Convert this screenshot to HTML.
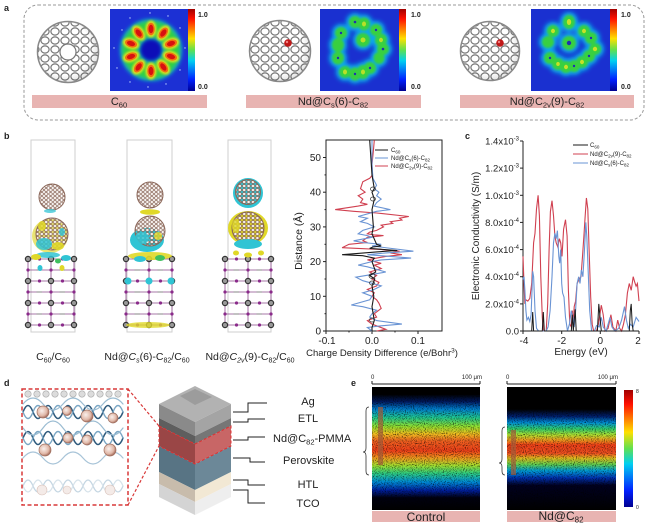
<!DOCTYPE html>
<html><head><meta charset="utf-8"><style>
html,body{margin:0;padding:0;background:#fff;}
svg{display:block;font-family:"Liberation Sans",Arial,sans-serif;}
</style></head><body>
<svg width="649" height="527" viewBox="0 0 649 527" xmlns="http://www.w3.org/2000/svg">
<defs>
<linearGradient id="jet" x1="0" y1="0" x2="0" y2="1">
<stop offset="0" stop-color="#a00000"/><stop offset="0.12" stop-color="#ff1000"/><stop offset="0.36" stop-color="#ffe000"/><stop offset="0.5" stop-color="#60e050"/><stop offset="0.63" stop-color="#00d0f0"/><stop offset="0.86" stop-color="#0020ff"/><stop offset="1" stop-color="#000090"/>
</linearGradient>
<pattern id="mesh" patternUnits="userSpaceOnUse" width="10" height="9">
<ellipse cx="5" cy="4.5" rx="4.1" ry="3.6" fill="#fff" stroke="#777" stroke-width="1.2"/>
</pattern>
<pattern id="mesh2" patternUnits="userSpaceOnUse" width="4.4" height="4">
<ellipse cx="2.2" cy="2" rx="1.7" ry="1.5" fill="#f6f0ec" stroke="#8a6658" stroke-width="0.8"/>
</pattern>
<radialGradient id="shade" cx="0.45" cy="0.45" r="0.6">
<stop offset="0.7" stop-color="#000" stop-opacity="0"/><stop offset="1" stop-color="#000" stop-opacity="0.15"/>
</radialGradient>
<filter id="b2" x="-50%" y="-50%" width="200%" height="200%"><feGaussianBlur stdDeviation="2"/></filter>
<filter id="b1" x="-50%" y="-50%" width="200%" height="200%"><feGaussianBlur stdDeviation="1.1"/></filter>
<filter id="b3" x="-50%" y="-50%" width="200%" height="200%"><feGaussianBlur stdDeviation="3"/></filter>
<filter id="speck" x="0" y="0" width="100%" height="100%" color-interpolation-filters="sRGB">
<feTurbulence type="fractalNoise" baseFrequency="0.9" numOctaves="1" seed="4"/>
<feColorMatrix type="matrix" values="0 0 0 0 0  0 0 0 0 0  0 0 0 0 0  2.4 0 0 0 -1.15"/>
</filter>
<linearGradient id="gc" x1="0" y1="0" x2="0" y2="1">
<stop offset="0" stop-color="#000"/><stop offset="0.06" stop-color="#000"/><stop offset="0.12" stop-color="#001a60"/><stop offset="0.18" stop-color="#0080d0"/><stop offset="0.25" stop-color="#20c890"/><stop offset="0.32" stop-color="#90e030"/><stop offset="0.38" stop-color="#f0c020"/><stop offset="0.44" stop-color="#f06020"/><stop offset="0.52" stop-color="#f04018"/><stop offset="0.58" stop-color="#f0a020"/><stop offset="0.64" stop-color="#a0e030"/><stop offset="0.70" stop-color="#30d080"/><stop offset="0.77" stop-color="#0090d8"/><stop offset="0.84" stop-color="#0020a0"/><stop offset="0.9" stop-color="#000010"/><stop offset="1" stop-color="#000"/>
</linearGradient>
<linearGradient id="gn" x1="0" y1="0" x2="0" y2="1">
<stop offset="0" stop-color="#000"/><stop offset="0.18" stop-color="#000"/><stop offset="0.24" stop-color="#002070"/><stop offset="0.29" stop-color="#0090d8"/><stop offset="0.34" stop-color="#30d070"/><stop offset="0.39" stop-color="#b0e030"/><stop offset="0.43" stop-color="#f0a020"/><stop offset="0.47" stop-color="#f04018"/><stop offset="0.54" stop-color="#f05020"/><stop offset="0.58" stop-color="#e0c020"/><stop offset="0.63" stop-color="#60d050"/><stop offset="0.68" stop-color="#00a0d8"/><stop offset="0.74" stop-color="#0030b0"/><stop offset="0.8" stop-color="#000020"/><stop offset="1" stop-color="#000"/>
</linearGradient>
<radialGradient id="sph" cx="0.4" cy="0.4" r="0.6">
<stop offset="0" stop-color="#faf0ec"/><stop offset="0.7" stop-color="#e0b8a8"/><stop offset="1" stop-color="#a87060"/>
</radialGradient>
<g id="lat">
<g stroke="#8a4a8a" stroke-width="0.8">
<line x1="0" y1="0" x2="46" y2="0"/><line x1="0" y1="11" x2="46" y2="11"/><line x1="0" y1="22" x2="46" y2="22"/><line x1="0" y1="33" x2="46" y2="33"/><line x1="0" y1="44" x2="46" y2="44"/><line x1="0" y1="55" x2="46" y2="55"/><line x1="0" y1="66" x2="46" y2="66"/>
<line x1="0" y1="0" x2="0" y2="66"/><line x1="23" y1="0" x2="23" y2="66"/><line x1="46" y1="0" x2="46" y2="66"/>
</g>
<g fill="#9a9a9a" stroke="#333" stroke-width="1.2">
<circle cx="0" cy="0" r="2.6"/><circle cx="23" cy="0" r="2.6"/><circle cx="46" cy="0" r="2.6"/>
<circle cx="0" cy="22" r="2.6"/><circle cx="23" cy="22" r="2.6"/><circle cx="46" cy="22" r="2.6"/>
<circle cx="0" cy="44" r="2.6"/><circle cx="23" cy="44" r="2.6"/><circle cx="46" cy="44" r="2.6"/>
<circle cx="0" cy="66" r="2.6"/><circle cx="23" cy="66" r="2.6"/><circle cx="46" cy="66" r="2.6"/>
</g>
<g fill="#8a2a8a">
<circle cx="11.5" cy="0" r="1.6"/><circle cx="34.5" cy="0" r="1.6"/>
<circle cx="11.5" cy="22" r="1.6"/><circle cx="34.5" cy="22" r="1.6"/>
<circle cx="11.5" cy="44" r="1.6"/><circle cx="34.5" cy="44" r="1.6"/>
<circle cx="11.5" cy="66" r="1.6"/><circle cx="34.5" cy="66" r="1.6"/>
<circle cx="0" cy="11" r="1.6"/><circle cx="23" cy="11" r="1.6"/><circle cx="46" cy="11" r="1.6"/>
<circle cx="0" cy="33" r="1.6"/><circle cx="23" cy="33" r="1.6"/><circle cx="46" cy="33" r="1.6"/>
<circle cx="0" cy="55" r="1.6"/><circle cx="23" cy="55" r="1.6"/><circle cx="46" cy="55" r="1.6"/>
</g>
<g stroke="#999" stroke-width="1.2">
<line x1="8.5" y1="11" x2="14" y2="11"/><line x1="31.5" y1="11" x2="37" y2="11"/>
<line x1="8.5" y1="33" x2="14" y2="33"/><line x1="31.5" y1="33" x2="37" y2="33"/>
<line x1="8.5" y1="55" x2="14" y2="55"/><line x1="31.5" y1="55" x2="37" y2="55"/>
</g>
</g>
</defs>

<rect width="649" height="527" fill="#fff"/>

<!-- ========== Panel a ========== -->
<text x="4" y="11" font-size="9" font-weight="bold" fill="#222">a</text>
<rect x="24" y="5" width="620" height="115" rx="14" fill="none" stroke="#9a9a9a" stroke-width="1" stroke-dasharray="3,2"/>

<!-- cages -->
<g>
<circle cx="68" cy="52" r="31" fill="#fff"/>
<circle cx="68" cy="52" r="30" fill="url(#mesh)"/>
<circle cx="68" cy="52" r="8" fill="#fff" stroke="#777" stroke-width="1.2"/>
<circle cx="68" cy="52" r="31" fill="url(#shade)"/>
<circle cx="68" cy="52" r="30.5" fill="none" stroke="#888" stroke-width="1.5"/>
</g>
<g>
<circle cx="280" cy="51" r="31" fill="#fff"/>
<circle cx="280" cy="51" r="30" fill="url(#mesh)"/>
<circle cx="280" cy="51" r="31" fill="url(#shade)"/>
<circle cx="280" cy="51" r="30.5" fill="none" stroke="#888" stroke-width="1.5"/>
<circle cx="288" cy="43" r="3.8" fill="#c01818"/><circle cx="287" cy="42" r="1.2" fill="#f08080"/>
</g>
<g>
<circle cx="490" cy="51" r="30" fill="#fff"/>
<circle cx="490" cy="51" r="29" fill="url(#mesh)"/>
<circle cx="490" cy="51" r="30" fill="url(#shade)"/>
<circle cx="490" cy="51" r="29.5" fill="none" stroke="#888" stroke-width="1.5"/>
<circle cx="500" cy="43" r="3.8" fill="#c01818"/><circle cx="499" cy="42" r="1.2" fill="#f08080"/>
</g>

<!-- heatmap 1 -->
<rect x="110" y="9" width="78" height="82" fill="#1c30d4"/>
<circle cx="151" cy="50" r="13" fill="#1010b8" filter="url(#b1)"/>
<circle cx="151" cy="50" r="21" fill="none" stroke="#10b0e0" stroke-width="19" filter="url(#b2)"/>
<circle cx="151" cy="50" r="21" fill="none" stroke="#30d040" stroke-width="16" filter="url(#b2)"/>
<g transform="translate(151,50)">
<g id="blob1"><ellipse cx="0" cy="-21" rx="5.5" ry="8.5" fill="#d8e020" filter="url(#b1)"/><ellipse cx="0" cy="-21" rx="3.8" ry="6.2" fill="#f07010"/><ellipse cx="0" cy="-21" rx="2.4" ry="4.2" fill="#d81010"/></g>
<use href="#blob1" transform="rotate(36)"/><use href="#blob1" transform="rotate(72)"/><use href="#blob1" transform="rotate(108)"/><use href="#blob1" transform="rotate(144)"/><use href="#blob1" transform="rotate(180)"/><use href="#blob1" transform="rotate(216)"/><use href="#blob1" transform="rotate(252)"/><use href="#blob1" transform="rotate(288)"/><use href="#blob1" transform="rotate(324)"/>
</g>
<g fill="#b8d0ff">
<circle cx="122" cy="30" r="0.7"/><circle cx="130" cy="18" r="0.7"/><circle cx="150" cy="13" r="0.7"/><circle cx="168" cy="16" r="0.7"/><circle cx="180" cy="28" r="0.7"/><circle cx="185" cy="48" r="0.7"/><circle cx="180" cy="70" r="0.7"/><circle cx="166" cy="84" r="0.7"/><circle cx="148" cy="87" r="0.7"/><circle cx="130" cy="82" r="0.7"/><circle cx="117" cy="68" r="0.7"/><circle cx="114" cy="48" r="0.7"/>
</g>
<rect x="188" y="9" width="7" height="82" fill="url(#jet)"/>
<text x="198" y="17" font-size="7" font-weight="bold" fill="#222">1.0</text>
<text x="198" y="89" font-size="7" font-weight="bold" fill="#222">0.0</text>

<!-- heatmap 2 -->
<rect x="320" y="9" width="79" height="82" fill="#1a30d0"/>
<g fill="#10a8e8" filter="url(#b2)">
<ellipse cx="355" cy="22" rx="9" ry="9"/><ellipse cx="364" cy="24" rx="9" ry="9.5"/><ellipse cx="341" cy="33" rx="9" ry="9"/><ellipse cx="338" cy="45" rx="9" ry="10"/><ellipse cx="338" cy="58" rx="9" ry="9.5"/><ellipse cx="363" cy="40" rx="10" ry="10"/><ellipse cx="376" cy="30" rx="9" ry="9"/><ellipse cx="381" cy="40" rx="9" ry="9.5"/><ellipse cx="383" cy="49" rx="9" ry="9"/><ellipse cx="379" cy="58" rx="8.5" ry="9"/><ellipse cx="345" cy="72" rx="9" ry="9"/><ellipse cx="355" cy="74" rx="9" ry="9.5"/><ellipse cx="363" cy="72" rx="9" ry="10"/><ellipse cx="370" cy="68" rx="9" ry="9"/>
</g>
<g fill="#38d040" filter="url(#b1)">
<ellipse cx="355" cy="22" rx="6" ry="6"/><ellipse cx="364" cy="24" rx="6" ry="6.5"/><ellipse cx="341" cy="33" rx="6" ry="6"/><ellipse cx="338" cy="45" rx="6" ry="7"/><ellipse cx="338" cy="58" rx="6" ry="6.5"/><ellipse cx="363" cy="40" rx="7" ry="7"/><ellipse cx="376" cy="30" rx="6" ry="6"/><ellipse cx="381" cy="40" rx="6" ry="6.5"/><ellipse cx="383" cy="49" rx="6" ry="6"/><ellipse cx="379" cy="58" rx="5.5" ry="6"/><ellipse cx="345" cy="72" rx="6" ry="6"/><ellipse cx="355" cy="74" rx="6" ry="6.5"/><ellipse cx="363" cy="72" rx="6" ry="7"/><ellipse cx="370" cy="68" rx="6" ry="6"/>
</g>
<g fill="#b8e028">
<ellipse cx="364" cy="24" rx="2" ry="2.5"/><ellipse cx="363" cy="40" rx="2.5" ry="2.5"/><ellipse cx="345" cy="72" rx="2" ry="2.5"/><ellipse cx="363" cy="72" rx="2" ry="2.5"/><ellipse cx="381" cy="40" rx="2" ry="2.2"/>
</g>
<g fill="#2030b0">
<circle cx="355" cy="22" r="1.3"/><circle cx="341" cy="33" r="1.2"/><circle cx="338" cy="58" r="1.2"/><circle cx="376" cy="30" r="1.2"/><circle cx="383" cy="49" r="1.3"/><circle cx="370" cy="68" r="1.2"/><circle cx="355" cy="74" r="1.2"/>
</g>
<rect x="399" y="9" width="7" height="82" fill="url(#jet)"/>
<text x="411" y="17" font-size="7" font-weight="bold" fill="#222">1.0</text>
<text x="411" y="89" font-size="7" font-weight="bold" fill="#222">0.0</text>

<!-- heatmap 3 -->
<rect x="531" y="9" width="79" height="82" fill="#1a30d0"/>
<g fill="#10a8e8" filter="url(#b2)">
<ellipse cx="569" cy="22" rx="9" ry="10"/><ellipse cx="553" cy="31" rx="9" ry="9"/><ellipse cx="548" cy="42" rx="9" ry="9"/><ellipse cx="584" cy="31" rx="9" ry="9"/><ellipse cx="591" cy="38" rx="9" ry="9"/><ellipse cx="569" cy="43" rx="10" ry="10"/><ellipse cx="595" cy="49" rx="9" ry="9"/><ellipse cx="550" cy="58" rx="9" ry="9"/><ellipse cx="558" cy="64" rx="9" ry="9"/><ellipse cx="566" cy="67" rx="9" ry="9"/><ellipse cx="574" cy="66" rx="9" ry="9"/><ellipse cx="582" cy="62" rx="9" ry="9"/><ellipse cx="589" cy="56" rx="9" ry="9"/>
</g>
<g fill="#38d040" filter="url(#b1)">
<ellipse cx="569" cy="22" rx="6" ry="7"/><ellipse cx="553" cy="31" rx="6" ry="6"/><ellipse cx="548" cy="42" rx="6" ry="6"/><ellipse cx="584" cy="31" rx="6" ry="6"/><ellipse cx="591" cy="38" rx="6" ry="6"/><ellipse cx="569" cy="43" rx="7" ry="7"/><ellipse cx="595" cy="49" rx="6" ry="6"/><ellipse cx="550" cy="58" rx="6" ry="6"/><ellipse cx="558" cy="64" rx="6" ry="6"/><ellipse cx="566" cy="67" rx="6" ry="6"/><ellipse cx="574" cy="66" rx="6" ry="6"/><ellipse cx="582" cy="62" rx="6" ry="6"/><ellipse cx="589" cy="56" rx="6" ry="6"/>
</g>
<g fill="#c8e028">
<ellipse cx="569" cy="22" rx="2.2" ry="3"/><ellipse cx="553" cy="31" rx="2" ry="2.2"/><ellipse cx="584" cy="31" rx="2" ry="2.2"/><ellipse cx="595" cy="49" rx="2.2" ry="2.2"/><ellipse cx="566" cy="67" rx="2" ry="2.2"/><ellipse cx="582" cy="62" rx="2" ry="2.2"/><ellipse cx="558" cy="64" rx="1.8" ry="2"/>
</g>
<g fill="#2030b0">
<circle cx="569" cy="43" r="2.2"/><circle cx="591" cy="38" r="1.2"/><circle cx="550" cy="58" r="1.2"/><circle cx="574" cy="66" r="1.2"/><circle cx="589" cy="56" r="1.2"/>
</g>
<rect x="610" y="9" width="7" height="82" fill="url(#jet)"/>
<text x="621" y="17" font-size="7" font-weight="bold" fill="#222">1.0</text>
<text x="621" y="89" font-size="7" font-weight="bold" fill="#222">0.0</text>

<!-- pink labels a -->
<rect x="32" y="95" width="175" height="13" fill="#e8b4b2"/>
<rect x="246" y="95" width="175" height="13" fill="#e8b4b2"/>
<rect x="460" y="95" width="174" height="13" fill="#e8b4b2"/>
<g font-size="11" fill="#222" text-anchor="middle">
<text x="119" y="105">C<tspan font-size="7.5" dy="2.5">60</tspan></text>
<text x="333" y="105">Nd@C<tspan font-size="7.5" dy="2.5">s</tspan><tspan dy="-2.5">(6)-C</tspan><tspan font-size="7.5" dy="2.5">82</tspan></text>
<text x="547" y="105">Nd@C<tspan font-size="7.5" dy="2.5">2v</tspan><tspan dy="-2.5">(9)-C</tspan><tspan font-size="7.5" dy="2.5">82</tspan></text>
</g>

<!-- ========== Panel b ========== -->
<text x="4" y="139" font-size="9" font-weight="bold" fill="#222">b</text>
<g fill="none" stroke="#cfcfcf" stroke-width="1">
<rect x="31" y="140" width="44" height="192"/>
<rect x="127" y="140" width="45" height="192"/>
<rect x="228" y="140" width="43" height="192"/>
</g>
<use href="#lat" x="28" y="259"/>
<use href="#lat" x="126" y="259"/>
<use href="#lat" x="225" y="259"/>

<!-- cluster 1 -->
<g>
<circle cx="52" cy="197" r="13" fill="url(#mesh2)"/>
<circle cx="52" cy="197" r="13" fill="none" stroke="#8a6658" stroke-width="1"/>
<ellipse cx="50" cy="211" rx="6" ry="2" fill="#40c8d8" opacity="0.8"/>
<ellipse cx="50" cy="236" rx="18" ry="17" fill="#e0d838" opacity="0.7"/>
<circle cx="52" cy="234" r="16" fill="url(#mesh2)"/>
<circle cx="52" cy="234" r="16" fill="none" stroke="#8a6658" stroke-width="1"/>
<ellipse cx="44" cy="244" rx="8" ry="6" fill="#30c4d4" opacity="0.85"/>
<ellipse cx="58" cy="246" rx="6" ry="4" fill="#e0d828" opacity="0.9"/>
<ellipse cx="42" cy="226" rx="4" ry="5" fill="#e0d828" opacity="0.85"/>
<ellipse cx="62" cy="232" rx="3" ry="4" fill="#30c4d4" opacity="0.8"/>
<ellipse cx="48" cy="255" rx="12" ry="3" fill="#30c4d4" opacity="0.85"/>
<ellipse cx="36" cy="257" rx="5" ry="3" fill="#e0d828"/>
<ellipse cx="66" cy="258" rx="5" ry="3" fill="#30c4d4"/>
<ellipse cx="58" cy="261" rx="3" ry="2.5" fill="#40c060"/>
<ellipse cx="40" cy="268" rx="2.5" ry="3" fill="#30c4d4"/>
<ellipse cx="62" cy="268" rx="2.5" ry="3" fill="#e0d828"/>
</g>
<!-- cluster 2 -->
<g>
<circle cx="150" cy="195" r="13" fill="url(#mesh2)"/>
<circle cx="150" cy="195" r="13" fill="none" stroke="#8a6658" stroke-width="1"/>
<ellipse cx="150" cy="212" rx="10" ry="2.8" fill="#e0d828"/>
<ellipse cx="147" cy="240" rx="17" ry="12" fill="#30c4d4"/>
<circle cx="150" cy="231" r="15" fill="url(#mesh2)"/>
<circle cx="150" cy="231" r="15" fill="none" stroke="#8a6658" stroke-width="1"/>
<ellipse cx="142" cy="238" rx="7" ry="6" fill="#30c4d4" opacity="0.85"/>
<ellipse cx="158" cy="236" rx="4" ry="4" fill="#e0d828" opacity="0.8"/>
<ellipse cx="150" cy="256" rx="22" ry="4" fill="#e0d828" opacity="0.9"/>
<ellipse cx="140" cy="259" rx="6" ry="3" fill="#30c4d4"/>
<ellipse cx="160" cy="258" rx="5" ry="3" fill="#40c060"/>
<circle cx="128" cy="281" r="3.5" fill="#30c4d4"/><circle cx="149" cy="281" r="3.5" fill="#30c4d4"/><circle cx="171" cy="281" r="3.5" fill="#30c4d4"/>
<ellipse cx="148" cy="325" rx="22" ry="3" fill="#e0d828" opacity="0.8"/>
</g>
<!-- cluster 3 -->
<g>
<circle cx="248" cy="193" r="15" fill="#30c4d4"/>
<circle cx="248" cy="192" r="12.5" fill="url(#mesh2)"/>
<circle cx="248" cy="192" r="12.5" fill="none" stroke="#8a6658" stroke-width="1"/>
<ellipse cx="248" cy="228" rx="20" ry="17" fill="#e0d828"/>
<circle cx="248" cy="228" r="16" fill="url(#mesh2)"/>
<circle cx="248" cy="228" r="16" fill="none" stroke="#8a6658" stroke-width="1"/>
<ellipse cx="236" cy="226" rx="4" ry="7" fill="#e0d828" opacity="0.8"/>
<ellipse cx="248" cy="244" rx="14" ry="5" fill="#30c4d4"/>
<ellipse cx="236" cy="253" rx="3" ry="2.5" fill="#e0d828"/>
<ellipse cx="261" cy="253" rx="3" ry="2.5" fill="#e0d828"/>
<ellipse cx="248" cy="255" rx="4" ry="2.5" fill="#e0d828"/>
</g>
<g font-size="10.5" fill="#222" text-anchor="middle">
<text x="53" y="360">C<tspan font-size="7" dy="2.5">60</tspan><tspan dy="-2.5">/C</tspan><tspan font-size="7" dy="2.5">60</tspan></text>
<text x="147" y="360">Nd@<tspan font-style="italic">C</tspan><tspan font-size="7" font-style="italic" dy="2.5">s</tspan><tspan dy="-2.5">(6)-C</tspan><tspan font-size="7" dy="2.5">82</tspan><tspan dy="-2.5">/C</tspan><tspan font-size="7" dy="2.5">60</tspan></text>
<text x="250" y="360">Nd@<tspan font-style="italic">C</tspan><tspan font-size="7" font-style="italic" dy="2.5">2v</tspan><tspan dy="-2.5">(9)-C</tspan><tspan font-size="7" dy="2.5">82</tspan><tspan dy="-2.5">/C</tspan><tspan font-size="7" dy="2.5">60</tspan></text>
</g>

<!-- ===== Charge density chart ===== -->
<rect x="326" y="140" width="116" height="191" fill="none" stroke="#222" stroke-width="1"/>
<g stroke="#222" stroke-width="1">
<line x1="323" y1="331" x2="326" y2="331"/><line x1="323" y1="296.3" x2="326" y2="296.3"/><line x1="323" y1="261.6" x2="326" y2="261.6"/><line x1="323" y1="226.9" x2="326" y2="226.9"/><line x1="323" y1="192.2" x2="326" y2="192.2"/><line x1="323" y1="157.5" x2="326" y2="157.5"/>
<line x1="324.5" y1="313.7" x2="326" y2="313.7"/><line x1="324.5" y1="279" x2="326" y2="279"/><line x1="324.5" y1="244.3" x2="326" y2="244.3"/><line x1="324.5" y1="209.6" x2="326" y2="209.6"/><line x1="324.5" y1="174.9" x2="326" y2="174.9"/>
<line x1="326" y1="331" x2="326" y2="334"/><line x1="372" y1="331" x2="372" y2="334"/><line x1="418" y1="331" x2="418" y2="334"/>
<line x1="349" y1="331" x2="349" y2="332.5"/><line x1="395" y1="331" x2="395" y2="332.5"/>
</g>
<g font-size="10" fill="#222" text-anchor="end">
<text x="321" y="334.5">0</text><text x="321" y="299.8">10</text><text x="321" y="265.1">20</text><text x="321" y="230.4">30</text><text x="321" y="195.7">40</text><text x="321" y="161">50</text>
</g>
<g font-size="10" fill="#222" text-anchor="middle">
<text x="327" y="344">-0.1</text><text x="372" y="344">0.0</text><text x="418" y="344">0.1</text>
</g>
<text transform="translate(302,241) rotate(-90)" font-size="10.5" fill="#222" text-anchor="middle">Distance (Å)</text>
<text x="382" y="356" font-size="9.5" fill="#222" text-anchor="middle">Charge Density Difference (e/Bohr<tspan font-size="6.5" dy="-3.5">3</tspan><tspan dy="3.5">)</tspan></text>

<polyline fill="none" stroke="#d04050" stroke-width="1.1" points="374.3,140.2 373.4,150.6 372,164.4 372.5,174.9 369.7,178.3 362.8,181.8 360.5,188.7 365.1,192.2 358.2,195.7 362.8,199.1 360.5,202.6 367.4,204.3 358.2,206.1 335.2,209.6 353.6,211.3 376.6,213.0 408.8,216.5 399.6,218.2 401.9,220.0 390.4,221.7 392.7,223.4 381.2,225.2 383.5,226.9 376.6,230.4 369.7,232.1 367.4,233.8 374.3,234.9 383.5,235.6 374.3,236.6 367.4,237.3 362.8,240.8 367.4,242.5 349.0,244.3 342.1,247.7 358.2,248.4 381.2,249.5 399.6,251.2 390.4,252.9 401.9,254.7 385.8,256.4 376.6,258.1 367.4,259.9 374.3,261.6 381.2,263.3 374.3,265.1 381.2,268.5 369.7,272.0 376.6,275.5 372,279.0 378.9,282.4 376.6,285.9 367.4,289.4 374.3,292.8 372,296.3 376.6,299.8 378.9,303.2 381.2,308.4 374.3,313.7 376.6,317.1 367.4,320.6 372,324.1 385.8,329.3 376.6,331"/>
<polyline fill="none" stroke="#6a94d4" stroke-width="1.1" points="372,140.2 372,164.4 372.9,178.3 376.6,185.3 374.3,188.7 378.9,192.2 376.6,195.7 381.2,199.1 376.6,202.6 374.3,206.1 390.4,209.6 376.6,211.3 358.2,216.5 367.4,218.2 360.5,221.7 367.4,223.4 374.3,226.9 362.8,230.4 358.2,233.8 367.4,235.6 372,237.3 353.6,240.8 362.8,242.5 381.2,244.3 372,246.0 413.4,251.2 385.8,252.9 367.4,254.7 390.4,256.4 411.1,258.1 381.2,259.9 372,261.6 358.2,265.1 367.4,266.8 385.8,272.0 376.6,273.7 355.9,277.2 362.8,280.7 381.2,285.9 374.3,289.4 362.8,292.8 372,296.3 369.7,299.8 351.3,305.0 362.8,306.7 376.6,310.2 372,313.7 369.7,317.1 376.6,320.6 401.9,324.1 381.2,325.8 367.4,327.5 372,331"/>
<polyline fill="none" stroke="#1a1a1a" stroke-width="1.1" points="369.7,140.2 372,174.9 374.3,188.7 372,192.2 374.3,199.1 372,209.6 373.4,226.9 372,233.8 376.6,244.3 381.2,246.0 372.9,247.0 369.7,248.4 397.3,250.5 376.6,251.9 342.1,254.7 362.8,255.7 374.3,258.1 372,261.6 375.7,272.0 369.7,275.5 374.8,279.0 372,285.9 373.8,296.3 372,306.7 374.3,320.6 372,327.5 372,331"/>
<g fill="none" stroke="#333" stroke-width="0.7">
<ellipse cx="373" cy="189" rx="2.5" ry="2"/><ellipse cx="373" cy="199" rx="2.5" ry="2"/><ellipse cx="372" cy="276" rx="3" ry="2.5"/><ellipse cx="372" cy="283" rx="2.5" ry="2"/><ellipse cx="372" cy="320" rx="2.5" ry="2"/>
</g>
<g font-size="6" fill="#222">
<line x1="375" y1="150" x2="388" y2="150" stroke="#1a1a1a" stroke-width="1"/>
<line x1="375" y1="158" x2="388" y2="158" stroke="#6a94d4" stroke-width="1"/>
<line x1="375" y1="166" x2="388" y2="166" stroke="#d04050" stroke-width="1"/>
<text x="391" y="152">C<tspan font-size="4.5" dy="1.5">60</tspan></text>
<text x="391" y="160">Nd@C<tspan font-size="4.5" dy="1.5">s</tspan><tspan dy="-1.5">(6)-C</tspan><tspan font-size="4.5" dy="1.5">82</tspan></text>
<text x="391" y="168">Nd@C<tspan font-size="4.5" dy="1.5">2v</tspan><tspan dy="-1.5">(9)-C</tspan><tspan font-size="4.5" dy="1.5">82</tspan></text>
</g>

<!-- ===== Panel c ===== -->
<text x="465" y="139" font-size="9" font-weight="bold" fill="#222">c</text>
<g stroke="#222" stroke-width="1">
<line x1="523" y1="141" x2="523" y2="331"/><line x1="523" y1="331" x2="639" y2="331"/>
<line x1="520" y1="331" x2="523" y2="331"/><line x1="520" y1="303.9" x2="523" y2="303.9"/><line x1="520" y1="276.7" x2="523" y2="276.7"/><line x1="520" y1="249.6" x2="523" y2="249.6"/><line x1="520" y1="222.4" x2="523" y2="222.4"/><line x1="520" y1="195.3" x2="523" y2="195.3"/><line x1="520" y1="168.1" x2="523" y2="168.1"/><line x1="520" y1="141" x2="523" y2="141"/>
<line x1="523" y1="331" x2="523" y2="334"/><line x1="561.7" y1="331" x2="561.7" y2="334"/><line x1="600.3" y1="331" x2="600.3" y2="334"/><line x1="639" y1="331" x2="639" y2="334"/>
</g>
<g font-size="9.5" fill="#222" text-anchor="end">
<text x="519" y="334.5">0.0</text>
<text x="519" y="307.4">2.0x10<tspan font-size="6" dy="-4">-4</tspan></text>
<text x="519" y="280.2">4.0x10<tspan font-size="6" dy="-4">-4</tspan></text>
<text x="519" y="253.1">6.0x10<tspan font-size="6" dy="-4">-4</tspan></text>
<text x="519" y="225.9">8.0x10<tspan font-size="6" dy="-4">-4</tspan></text>
<text x="519" y="198.8">1.0x10<tspan font-size="6" dy="-4">-3</tspan></text>
<text x="519" y="171.6">1.2x10<tspan font-size="6" dy="-4">-3</tspan></text>
<text x="519" y="144.5">1.4x10<tspan font-size="6" dy="-4">-3</tspan></text>
</g>
<g font-size="10" fill="#222" text-anchor="middle">
<text x="524" y="344">-4</text><text x="561.7" y="344">-2</text><text x="600.3" y="344">0</text><text x="638" y="344">2</text>
<text x="581" y="355">Energy (eV)</text>
</g>
<text transform="translate(479,236) rotate(-90)" font-size="10" fill="#222" text-anchor="middle">Electronic Conductivity (S/m)</text>

<polyline fill="none" stroke="#d04050" stroke-width="1.1" points="523.0,256.4 524.0,283.5 524.9,303.9 525.9,299.8 527.8,301.1 529.8,298.4 531.7,283.5 533.6,242.8 535.0,233.3 536.5,208.9 538.1,195.3 539.4,215.7 540.8,276.7 542.3,317.4 543.3,331 546.2,331 547.7,303.9 549.1,249.6 550.4,211.6 552.0,200.7 553.5,215.7 554.9,236.0 556.2,242.8 557.8,246.9 559.4,238.7 560.7,242.8 562.0,256.4 563.6,229.2 565.5,219.7 567.1,236.0 568.4,290.3 569.8,324.2 571.3,326.9 572.3,310.6 573.3,324.2 574.2,306.6 575.6,301.1 577.1,283.5 579.1,279.4 581.0,276.7 582.5,256.4 583.9,236.0 585.2,215.7 586.4,198.0 587.8,208.9 589.1,249.6 590.7,297.1 592.2,324.2 593.6,331 596.5,331 598.4,324.2 601.3,305.2 603.2,314.7 605.1,331 608.1,328.3 610.9,314.7 612.9,326.9 615.8,331 617.7,320.1 619.6,328.3 621.6,331 623.5,324.2 625.4,314.7 627.4,293.0 629.3,283.5 631.2,290.3 633.2,276.7 634.7,282.1 636.1,286.2 637.4,283.5 639.0,301.1"/>
<polyline fill="none" stroke="#6a94d4" stroke-width="1.1" points="523.0,279.4 524.0,276.7 524.9,290.3 525.9,310.6 526.9,320.1 528.4,317.4 529.8,321.5 531.1,314.7 532.7,271.3 533.6,276.7 535.0,310.6 536.5,328.3 538.5,331 546.2,331 548.1,326.9 550.1,310.6 552.0,276.7 553.5,242.8 554.9,233.3 556.2,238.7 557.4,230.6 558.8,256.4 559.7,263.2 560.7,249.6 561.7,283.5 562.6,293.0 564.0,297.1 565.5,317.4 567.5,331 569.4,324.2 571.3,310.6 572.9,317.4 574.2,326.9 575.6,310.6 577.1,283.5 578.7,276.7 580.0,283.5 581.4,269.9 582.9,276.7 584.5,249.6 585.8,222.4 586.8,236.0 588.4,276.7 589.7,310.6 591.6,331 594.5,331 596.5,325.6 599.3,326.9 601.3,317.4 603.2,326.9 606.1,331 608.1,324.2 610.0,317.4 611.9,326.9 614.8,331 618.7,328.3 621.6,320.1 624.5,306.6 626.4,320.1 628.3,328.3 630.3,324.2 633.2,326.9 636.1,317.4 638.0,320.1 639.0,321.5"/>
<polyline fill="none" stroke="#1a1a1a" stroke-width="1" points="523,331 531.7,331 532.7,312.0 533.6,331 542.3,331 543.3,312.0 544.3,331 571.3,331 572.3,314.7 573.3,331 575.2,309.3 576.2,331 597.4,331 598.8,303.9 600.3,320.1 601.3,331 629.3,331 630.3,310.6 631.2,303.9 632.2,324.2 633.2,331 639,331"/>
<g font-size="6" fill="#222">
<line x1="573" y1="145" x2="588" y2="145" stroke="#1a1a1a" stroke-width="1"/>
<line x1="573" y1="154" x2="588" y2="154" stroke="#d04050" stroke-width="1"/>
<line x1="573" y1="163" x2="588" y2="163" stroke="#6a94d4" stroke-width="1"/>
<text x="590" y="147">C<tspan font-size="4.5" dy="1.5">60</tspan></text>
<text x="590" y="156">Nd@C<tspan font-size="4.5" dy="1.5">2v</tspan><tspan dy="-1.5">(9)-C</tspan><tspan font-size="4.5" dy="1.5">82</tspan></text>
<text x="590" y="165">Nd@C<tspan font-size="4.5" dy="1.5">s</tspan><tspan dy="-1.5">(6)-C</tspan><tspan font-size="4.5" dy="1.5">82</tspan></text>
</g>

<!-- ========== Panel d ========== -->
<text x="4" y="386" font-size="9" font-weight="bold" fill="#222">d</text>
<g fill="#dcdcdc" stroke="#a8a8a8" stroke-width="0.6">
<circle cx="28" cy="394" r="3.2"/><circle cx="37" cy="394" r="3.2"/><circle cx="46" cy="394" r="3.2"/><circle cx="55" cy="394" r="3.2"/><circle cx="64" cy="394" r="3.2"/><circle cx="73" cy="394" r="3.2"/><circle cx="82" cy="394" r="3.2"/><circle cx="91" cy="394" r="3.2"/><circle cx="100" cy="394" r="3.2"/><circle cx="109" cy="394" r="3.2"/><circle cx="118" cy="394" r="3.2"/>
</g>
<g fill="none" stroke-linecap="round">
<path d="M23 412 q5 -13 10 0 t10 0 t10 0 t10 0 t10 0 t10 0 t10 0 t10 0 t10 0 t10 0" stroke="#2e5a7c" stroke-width="1.6"/>
<path d="M23 412 q5 13 10 0 t10 0 t10 0 t10 0 t10 0 t10 0 t10 0 t10 0 t10 0 t10 0" stroke="#7aa6c4" stroke-width="1.4"/>
<path d="M23 404 q10 -12 20 0 t20 0 t20 0 t20 0 t20 0" stroke="#9bbcd2" stroke-width="1.2"/>
<path d="M23 438 q5 -13 10 0 t10 0 t10 0 t10 0 t10 0 t10 0 t10 0 t10 0 t10 0 t10 0" stroke="#2e5a7c" stroke-width="1.6"/>
<path d="M23 438 q5 13 10 0 t10 0 t10 0 t10 0 t10 0 t10 0 t10 0 t10 0 t10 0 t10 0" stroke="#7aa6c4" stroke-width="1.4"/>
<path d="M23 428 q10 14 20 0 t20 0 t20 0 t20 0 t20 0" stroke="#9bbcd2" stroke-width="1.2"/>
<path d="M23 458 q10 -12 20 0 t20 0 t20 0 t20 0 t20 0" stroke="#a8c4d8" stroke-width="1.2"/>
<path d="M23 486 q5 -12 10 0 t10 0 t10 0 t10 0 t10 0 t10 0 t10 0 t10 0 t10 0 t10 0" stroke="#c4d6e2" stroke-width="1.3"/>
<path d="M23 486 q5 12 10 0 t10 0 t10 0 t10 0 t10 0 t10 0 t10 0 t10 0 t10 0 t10 0" stroke="#d6e2ea" stroke-width="1.2"/>
</g>
<g stroke="#a07060" stroke-width="0.7">
<circle cx="43" cy="412" r="6" fill="url(#sph)"/><circle cx="67" cy="411" r="4.5" fill="url(#sph)"/><circle cx="87" cy="416" r="6" fill="url(#sph)"/><circle cx="113" cy="418" r="5" fill="url(#sph)"/>
<circle cx="68" cy="438" r="5" fill="url(#sph)"/><circle cx="87" cy="440" r="5" fill="url(#sph)"/><circle cx="45" cy="450" r="6" fill="url(#sph)"/><circle cx="110" cy="450" r="6" fill="url(#sph)"/>
</g>
<g stroke="#d8c0b8" stroke-width="0.6" fill="#f4ebe8">
<circle cx="42" cy="490" r="5"/><circle cx="67" cy="490" r="4"/><circle cx="110" cy="490" r="5"/>
</g>
<rect x="22" y="389" width="106" height="116" fill="none" stroke="#d83838" stroke-width="1.5" stroke-dasharray="4,2.5"/>
<line x1="128" y1="389" x2="159" y2="426" stroke="#d83838" stroke-width="1.2" stroke-dasharray="3,2"/>
<line x1="128" y1="505" x2="159" y2="446" stroke="#d83838" stroke-width="1.2" stroke-dasharray="3,2"/>

<!-- stack -->
<g>
<polygon points="195,386 159,404 195,422 231,404" fill="#b2b2b2"/>
<polygon points="159,404 195,422 195,436 159,418" fill="#8a8a8a"/>
<polygon points="195,422 231,404 231,418 195,436" fill="#a4a4a4"/>
<polygon points="159,418 195,436 195,444 159,426" fill="#5e5e5e"/>
<polygon points="195,436 231,418 231,426 195,444" fill="#767676"/>
<polygon points="159,426 195,444 195,464 159,446" fill="#9a4646"/>
<polygon points="195,444 231,426 231,446 195,464" fill="#c86666"/>
<polygon points="159,446 195,464 195,490 159,472" fill="#587484"/>
<polygon points="195,464 231,446 231,472 195,490" fill="#6c8898"/>
<polygon points="159,472 195,490 195,502 159,484" fill="#c8bcac"/>
<polygon points="195,490 231,472 231,484 195,502" fill="#f2e8d4"/>
<polygon points="159,484 195,502 195,515 159,497" fill="#d4d4d4"/>
<polygon points="195,502 231,484 231,497 195,515" fill="#eeeeee"/>
<polygon points="180,396 195,389 212,397 195,405" fill="#8e8e8e" opacity="0.6"/>
<polygon points="159,426 195,444 231,426 231,446 195,464 159,446" fill="none" stroke="#e03030" stroke-width="1" stroke-dasharray="3,2"/>
</g>
<g fill="none" stroke="#222" stroke-width="1">
<polyline points="233,412 248,412 248,403 267,403"/>
<polyline points="233,422 248,422 248,419 265,419"/>
<polyline points="233,440 248,440 248,437 265,437"/>
<polyline points="233,458 250,458 250,462 265,462"/>
<polyline points="233,480 248,480 248,485 265,485"/>
<polyline points="233,490 248,490 248,503 265,503"/>
</g>
<g font-size="11" fill="#222">
<text x="308" y="405" text-anchor="middle">Ag</text>
<text x="308" y="422" text-anchor="middle">ETL</text>
<text x="273" y="442">Nd@C<tspan font-size="7.5" dy="2.5">82</tspan><tspan dy="-2.5">-PMMA</tspan></text>
<text x="283" y="464">Perovskite</text>
<text x="308" y="488" text-anchor="middle">HTL</text>
<text x="308" y="507" text-anchor="middle">TCO</text>
</g>

<!-- ========== Panel e ========== -->
<text x="351" y="386" font-size="9" font-weight="bold" fill="#222">e</text>
<g stroke="#222" stroke-width="1" fill="none">
<line x1="372" y1="384" x2="480" y2="384"/><line x1="372" y1="381" x2="372" y2="384"/><line x1="480" y1="381" x2="480" y2="384"/>
<line x1="507" y1="384" x2="616" y2="384"/><line x1="507" y1="381" x2="507" y2="384"/><line x1="616" y1="381" x2="616" y2="384"/>
</g>
<g font-size="6" fill="#222">
<text x="371" y="379">0</text><text x="482" y="379" text-anchor="end">100 μm</text>
<text x="506" y="379">0</text><text x="618" y="379" text-anchor="end">100 μm</text>
</g>
<rect x="372" y="387" width="108" height="123" fill="url(#gc)"/>
<rect x="372" y="387" width="108" height="123" fill="#000" filter="url(#speck)"/>
<rect x="378" y="407" width="5" height="58" fill="#a05a38" opacity="0.7"/>
<rect x="507" y="387" width="109" height="123" fill="url(#gn)"/>
<rect x="507" y="387" width="109" height="123" fill="#000" filter="url(#speck)"/>
<rect x="511" y="430" width="5" height="45" fill="#a05a38" opacity="0.7"/>
<rect x="624" y="390" width="9" height="117" fill="url(#jet)"/>
<g font-size="5" fill="#222"><text x="636" y="393">8</text><text x="636" y="509">0</text></g>
<g fill="none" stroke="#333" stroke-width="0.8">
<path d="M369,407 Q366,407 366,411 L366,448 Q366,452 363,452 Q366,452 366,456 L366,471 Q366,475 369,475"/>
<path d="M505,427 Q502,427 502,431 L502,459 Q502,463 499,463 Q502,463 502,467 L502,471 Q502,475 505,475"/>
</g>
<rect x="372" y="511" width="108" height="11" fill="#e8b4b2"/>
<rect x="507" y="511" width="109" height="11" fill="#e8b4b2"/>
<g font-size="12" fill="#222" text-anchor="middle">
<text x="426" y="521">Control</text>
<text x="561" y="520">Nd@C<tspan font-size="8" dy="2.5">82</tspan></text>
</g>
</svg>
</body></html>
